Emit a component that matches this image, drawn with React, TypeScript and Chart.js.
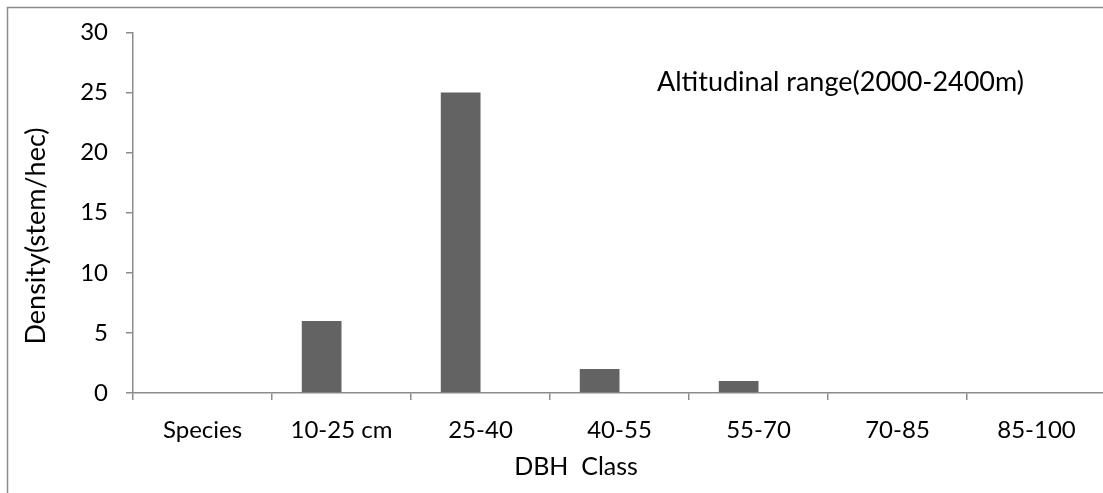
import React, { useEffect, useRef } from "react";
import { Chart, registerables } from "chart.js";

Chart.register(...registerables);

const categories = ["Species", "10-25 cm", "25-40", "40-55", "55-70", "70-85", "85-100"];
const densityValues = [0, 6, 25, 2, 1, 0, 0];
const emptySeries = [0, 0, 0, 0, 0, 0, 0];
const yTitle = "Density(stem/hec)";
const xTitle = "DBH  Class";
const annotationText = "Altitudinal range(2000-2400m)";

const FONT = "Lato, 'Open Sans', sans-serif";
const AXIS_COLOR = "#8c8c8c";

const CANVAS_W = 1120;
const CANVAS_H = 493;

export default function App() {
  const ref = useRef<HTMLCanvasElement | null>(null);

  useEffect(() => {
    document.body.style.margin = "0";
    const canvas = ref.current!;
    const framePlugin = {
      id: "frameAndText",
      beforeDraw(chart: any) {
        const ctx = chart.ctx;
        ctx.save();
        ctx.fillStyle = "#ffffff";
        ctx.fillRect(0, 0, chart.width, chart.height);
        ctx.strokeStyle = "#8a8a8a";
        ctx.lineWidth = 1.5;
        ctx.strokeRect(7.5, 7.5, chart.width + 20, chart.height + 20);
        ctx.restore();
      },
      afterDraw(chart: any) {
        const ctx = chart.ctx;
        ctx.save();
        ctx.fillStyle = "#000000";
        ctx.textBaseline = "middle";
        ctx.textAlign = "left";
        ctx.font = `27px ${FONT}`;
        ctx.fillText(annotationText, 657, 82);
        ctx.textAlign = "center";
        ctx.font = `25px ${FONT}`;
        ctx.fillText(xTitle, 576, 467);
        ctx.translate(36, 236);
        ctx.rotate(-Math.PI / 2);
        ctx.font = `27px ${FONT}`;
        ctx.fillText(yTitle, 0, 0);
        ctx.restore();
      },
    };

    const chart = new Chart(canvas, {
      type: "bar",
      data: {
        labels: categories,
        datasets: [
          {
            label: "Density",
            data: densityValues,
            backgroundColor: "#636363",
            borderWidth: 0,
          },
          {
            label: "Empty",
            data: emptySeries,
            backgroundColor: "#a0a0a0",
            borderWidth: 0,
          },
        ],
      },
      options: {
        responsive: false,
        animation: false,
        devicePixelRatio: 1,
        datasets: {
          bar: { categoryPercentage: 80 / 140, barPercentage: 1 },
        },
        layout: { padding: { left: 0, top: 23, right: CANVAS_W - 1106, bottom: 0 } },
        plugins: {
          legend: { display: false },
          tooltip: { enabled: false },
        },
        scales: {
          x: {
            afterFit(scale: any) {
              scale.height = 100;
            },
            grid: {
              display: true,
              drawOnChartArea: false,
              drawTicks: true,
              tickLength: 7,
              color: AXIS_COLOR,
              lineWidth: 1.5,
              offset: true,
            },
            border: { display: true, color: AXIS_COLOR, width: 1.5 },
            ticks: {
              color: "#000000",
              font: { family: FONT, size: 24 },
              padding: 16,
              maxRotation: 0,
              autoSkip: false,
            },
          },
          y: {
            min: 0,
            max: 30,
            afterFit(scale: any) {
              scale.width = 133;
            },
            grid: {
              display: true,
              drawOnChartArea: false,
              drawTicks: true,
              tickLength: 7,
              color: AXIS_COLOR,
              lineWidth: 1.5,
            },
            border: { display: true, color: AXIS_COLOR, width: 1.5 },
            ticks: {
              stepSize: 5,
              color: "#000000",
              font: { family: FONT, size: 24 },
              padding: 18,
            },
          },
        },
      },
      plugins: [framePlugin],
    });
    return () => chart.destroy();
  }, []);

  return (
    <div style={{ width: 1103, height: CANVAS_H, overflow: "hidden", position: "relative" }}>
      <canvas ref={ref} width={CANVAS_W} height={CANVAS_H} style={{ display: "block" }} />
    </div>
  );
}
